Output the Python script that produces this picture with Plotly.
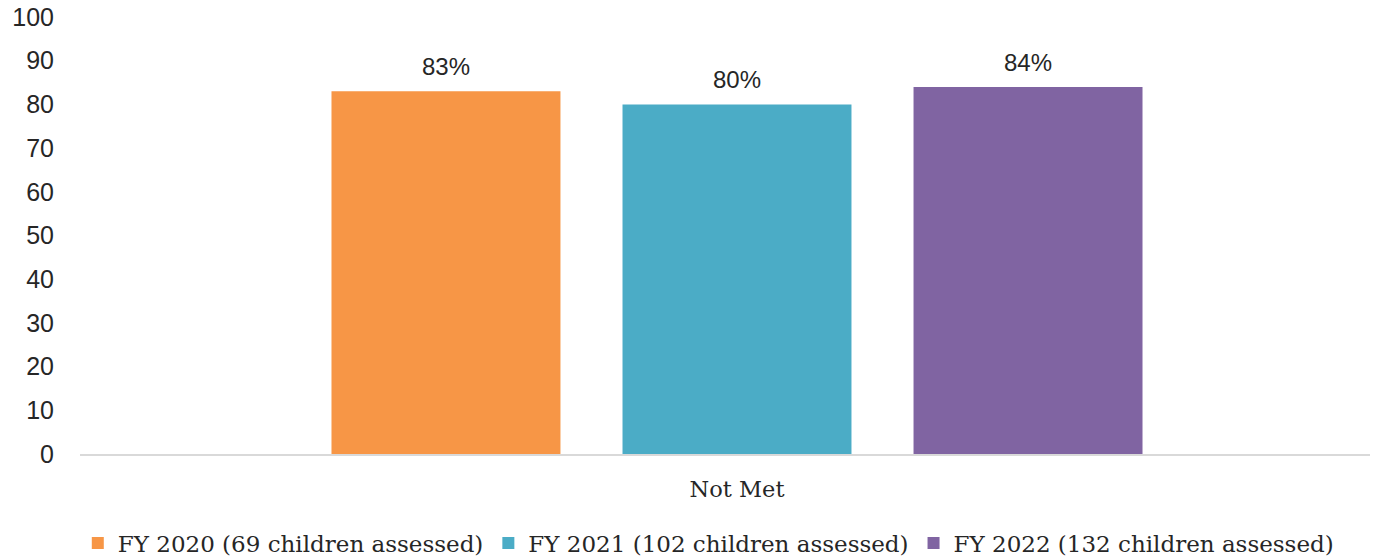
import plotly.graph_objects as go

categories = ["Not Met"]
series_names = [
    "FY 2020 (69 children assessed)",
    "FY 2021 (102 children assessed)",
    "FY 2022 (132 children assessed)",
]
series_values = [[83], [80], [84]]
series_colors = ["#F79646", "#4BACC6", "#8064A2"]
y_ticks = list(range(0, 101, 10))

# bar geometry in category units (one category spans 1.0)
bar_width = 0.1775
bar_step = 0.2256
x_shift = 0.0093

label_font = dict(family="Liberation Sans, Arial, sans-serif", size=24, color="#262626")
serif_font = dict(family="DejaVu Serif, serif", size=22.5, color="#262626")

fig = go.Figure()
annotations = []
n = len(series_names)
for i, (name, vals, color) in enumerate(zip(series_names, series_values, series_colors)):
    offset = (i - (n - 1) / 2) * bar_step
    xs = [k + offset for k in range(len(categories))]
    fig.add_trace(go.Bar(
        x=xs,
        y=vals,
        width=bar_width,
        name=name,
        marker=dict(color=color, line=dict(width=0)),
        hovertemplate=name + ": %{y}%<extra></extra>",
    ))
    for x, v in zip(xs, vals):
        annotations.append(dict(
            x=x, y=v, xref="x", yref="y",
            text=f"{v}%", showarrow=False,
            yanchor="bottom", yshift=9,
            font=label_font,
        ))

fig.update_layout(
    width=1378,
    height=557,
    margin=dict(l=80, r=8, t=17, b=103, autoexpand=False),
    paper_bgcolor="white",
    plot_bgcolor="white",
    barmode="overlay",
    annotations=annotations,
    showlegend=True,
    legend=dict(
        orientation="h",
        xref="container", yref="container",
        x=0.514, xanchor="center",
        y=0.025, yanchor="middle",
        font=dict(family="DejaVu Serif, serif", size=23, color="#262626"),
        itemwidth=30,
        tracegroupgap=0,
    ),
    xaxis=dict(
        range=[-0.5 - x_shift, 0.5 - x_shift],
        tickvals=list(range(len(categories))),
        ticktext=categories,
        showgrid=False,
        zeroline=False,
        showline=True,
        linecolor="#D9D9D9",
        linewidth=2,
        ticks="",
        ticklabelstandoff=14,
        tickfont=serif_font,
        automargin=False,
    ),
    yaxis=dict(
        range=[0, 100],
        tickvals=y_ticks,
        showgrid=False,
        zeroline=False,
        showline=False,
        ticks="",
        ticklabelstandoff=25,
        tickfont=dict(family="Liberation Sans, Arial, sans-serif", size=25, color="#262626"),
        automargin=False,
    ),
)

fig.write_html("out.html")
